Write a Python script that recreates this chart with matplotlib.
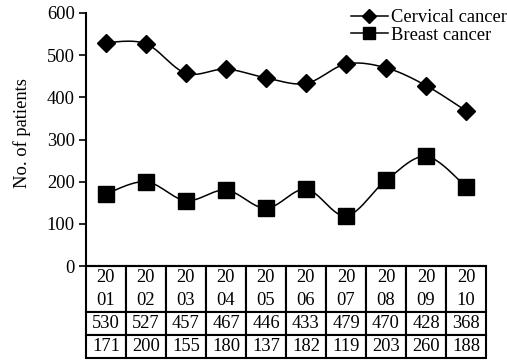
import numpy as np
import matplotlib
matplotlib.use("Agg")
import matplotlib.pyplot as plt

years = ["20\n01", "20\n02", "20\n03", "20\n04", "20\n05",
         "20\n06", "20\n07", "20\n08", "20\n09", "20\n10"]
cervical = [530, 527, 457, 467, 446, 433, 479, 470, 428, 368]
breast = [171, 200, 155, 180, 137, 182, 119, 203, 260, 188]

plt.rcParams['font.family'] = 'serif'
plt.rcParams['font.serif'] = ['Liberation Serif', 'DejaVu Serif']
plt.rcParams['font.size'] = 13.3


def smooth(xs, ys, n=24):
    # Catmull-Rom curve through the points (Excel style smoothed line)
    p = np.column_stack([xs, ys]).astype(float)
    p = np.vstack([p[0], p, p[-1]])
    out = []
    t = np.linspace(0, 1, n)[:, None]
    for i in range(1, len(p) - 2):
        p0, p1, p2, p3 = p[i - 1], p[i], p[i + 1], p[i + 2]
        seg = 0.5 * ((2 * p1) + (-p0 + p2) * t + (2 * p0 - 5 * p1 + 4 * p2 - p3) * t ** 2
                     + (-p0 + 3 * p1 - 3 * p2 + p3) * t ** 3)
        out.append(seg if i == 1 else seg[1:])
    out = np.vstack(out)
    return out[:, 0], out[:, 1]


fig = plt.figure(figsize=(5.07, 3.6), dpi=100)
ax = fig.add_axes([0.1696, 0.2611, 0.789, 0.7028])

x = np.arange(len(years))
sx, sy = smooth(x, cervical)
ax.plot(sx, sy, color='black', lw=1.1)
ax.plot(x, cervical, ls='none', marker='D', ms=9.3, color='black')
bx, by = smooth(x, breast)
ax.plot(bx, by, color='black', lw=1.1)
ax.plot(x, breast, ls='none', marker='s', ms=12, color='black')

# legend proxies
ax.plot([], [], color='black', lw=1.1, marker='D', ms=7, label='Cervical cancer')
ax.plot([], [], color='black', lw=1.1, marker='s', ms=8.5, label='Breast cancer')
handles, labels = ax.get_legend_handles_labels()
ax.legend(handles[-2:], labels[-2:], loc='upper right', bbox_to_anchor=(1.07, 1.045),
          frameon=False, handlelength=2.0, handletextpad=0.15, labelspacing=0.05,
          borderaxespad=0)

ax.set_xlim(-0.5, len(years) - 0.5)
ax.set_ylim(0, 600)
ax.set_yticks(range(0, 601, 100))
ax.set_xticks([])
ax.tick_params(axis='y', direction='out', length=5, width=1.2, pad=3)
ax.spines['top'].set_visible(False)
ax.spines['right'].set_visible(False)
ax.spines['left'].set_linewidth(1.5)
ax.spines['bottom'].set_linewidth(1.5)
ax.set_ylabel('No. of patients')
ax.yaxis.set_label_coords(-0.138, 0.526)

cells = [years, [str(v) for v in cervical], [str(v) for v in breast]]
tab = ax.table(cellText=cells, cellLoc='center', bbox=[0, -0.364, 1, 0.364])
tab.auto_set_font_size(False)
tab.set_fontsize(13.3)
for (r, c), cell in tab.get_celld().items():
    cell.set_height(0.182 if r == 0 else 0.091)
    cell.set_linewidth(1.5)
    cell.PAD = 0.02
    cell.get_text().set_linespacing(1.4)

fig.savefig('out.png', dpi=100)
